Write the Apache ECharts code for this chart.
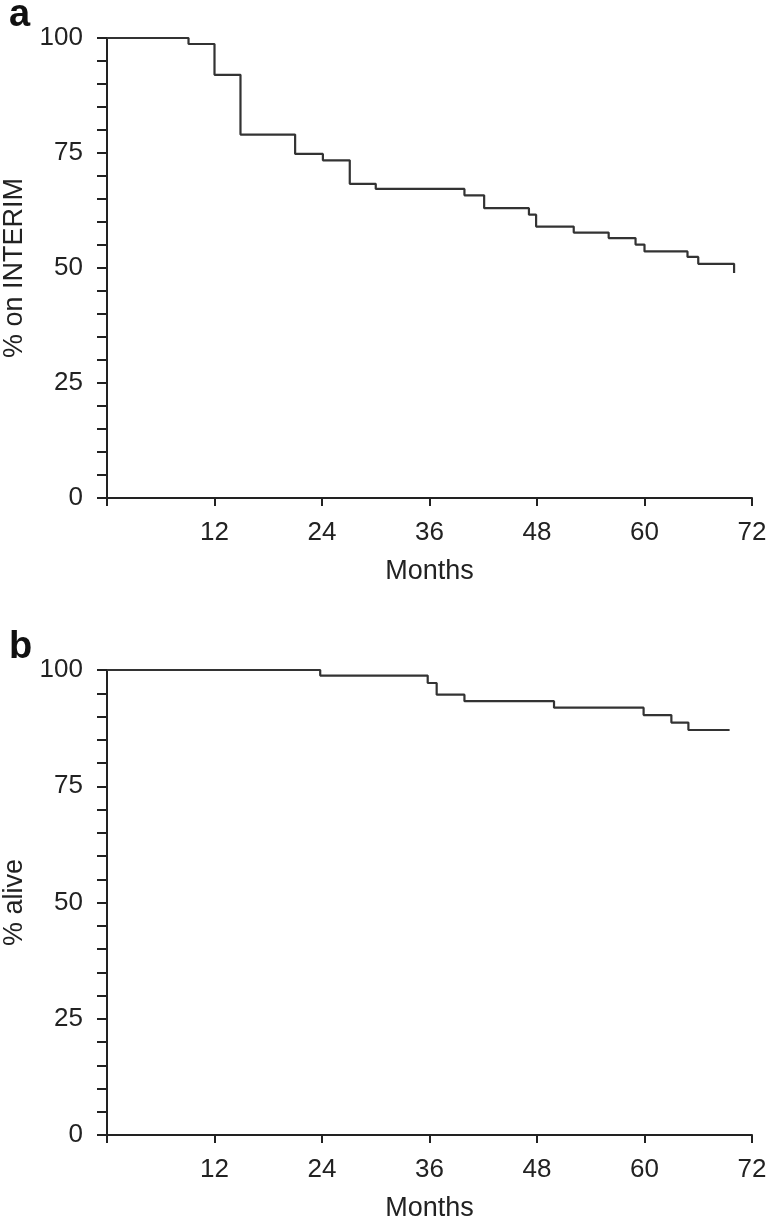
<!DOCTYPE html>
<html>
<head>
<meta charset="utf-8">
<script src="https://cdn.jsdelivr.net/npm/echarts@6/dist/echarts.min.js"></script>
<style>
html,body{margin:0;padding:0;background:#fff;}
#chart{width:768px;height:1229px;}
</style>
</head>
<body>
<div id="chart"></div>
<script>
// Panel a: % on INTERIM (Kaplan-Meier steps)
const monthsA = [0, 9.1, 12, 14.9, 21, 24.1, 27.1, 30, 39.9, 42.1, 47.1, 47.9, 52.1, 56, 59, 60, 64.8, 66, 70];
const pctA    = [100, 98.7, 92.0, 79.0, 74.8, 73.4, 68.3, 67.2, 65.8, 63.0, 61.6, 59.0, 57.7, 56.5, 55.1, 53.6, 52.4, 50.9, 48.9];
// Panel b: % alive
const monthsB = [0, 23.8, 35.8, 36.8, 39.9, 49.9, 59.9, 63, 64.9, 69.5];
const pctB    = [100, 98.8, 97.2, 94.7, 93.3, 91.9, 90.3, 88.7, 87.1, 87.1];

const xTicks = [0, 12, 24, 36, 48, 60, 72];
const yTicks = [0, 25, 50, 75, 100];
const panelLabels = ['a', 'b'];
const yNames = ['% on INTERIM', '% alive'];
const xName = 'Months';

const FONT = '"Liberation Sans", Arial, sans-serif';
const INK = '#222222';

function pairs(xs, ys) { return xs.map((x, i) => [x, ys[i]]); }

function xAxisCfg(gi) {
  return {
    gridIndex: gi, type: 'value',
    min: xTicks[0], max: xTicks[xTicks.length - 1], interval: 12,
    name: xName, nameLocation: 'middle', nameGap: 60,
    nameTextStyle: {fontFamily: FONT, fontSize: 27, color: INK},
    axisLine: {show: true, onZero: false, lineStyle: {color: INK, width: 2}},
    axisTick: {show: true, length: 8, lineStyle: {color: INK, width: 2}},
    axisLabel: {fontFamily: FONT, fontSize: 26, color: INK, margin: 22,
      formatter: v => (v === 0 ? '' : String(v))},
    splitLine: {show: false}
  };
}
function yAxisCfg(gi) {
  return {
    gridIndex: gi, type: 'value',
    min: yTicks[0], max: yTicks[yTicks.length - 1], interval: 25,
    name: yNames[gi], nameLocation: 'middle', nameGap: 79,
    nameTextStyle: {fontFamily: FONT, fontSize: 27, color: INK},
    axisLine: {show: true, lineStyle: {color: INK, width: 2}},
    axisTick: {show: true, length: 10, lineStyle: {color: INK, width: 2}},
    minorTick: {show: true, splitNumber: 5, length: 10, lineStyle: {color: INK, width: 2}},
    axisLabel: {fontFamily: FONT, fontSize: 26, color: INK, margin: 24},
    splitLine: {show: false}, minorSplitLine: {show: false}
  };
}

const chart = echarts.init(document.getElementById('chart'), null, {renderer: 'canvas'});
chart.setOption({
  animation: false,
  backgroundColor: '#ffffff',
  title: [
    {text: panelLabels[0], left: 4, top: -8, textStyle: {fontFamily: FONT, fontSize: 38, fontWeight: 'bold', color: '#111'}},
    {text: panelLabels[1], left: 4, top: 624, textStyle: {fontFamily: FONT, fontSize: 38, fontWeight: 'bold', color: '#111'}}
  ],
  grid: [
    {left: 107, right: 16, top: 38, height: 460, containLabel: false, outerBoundsMode: 'none'},
    {left: 107, right: 16, top: 670, height: 465, containLabel: false, outerBoundsMode: 'none'}
  ],
  xAxis: [xAxisCfg(0), xAxisCfg(1)],
  yAxis: [yAxisCfg(0), yAxisCfg(1)],
  series: [
    {type: 'line', xAxisIndex: 0, yAxisIndex: 0, step: 'end', showSymbol: false,
     lineStyle: {color: '#333', width: 2.2}, data: pairs(monthsA, pctA)},
    {type: 'line', xAxisIndex: 1, yAxisIndex: 1, step: 'end', showSymbol: false,
     lineStyle: {color: '#333', width: 2.2}, data: pairs(monthsB, pctB)}
  ]
});
</script>
</body>
</html>
